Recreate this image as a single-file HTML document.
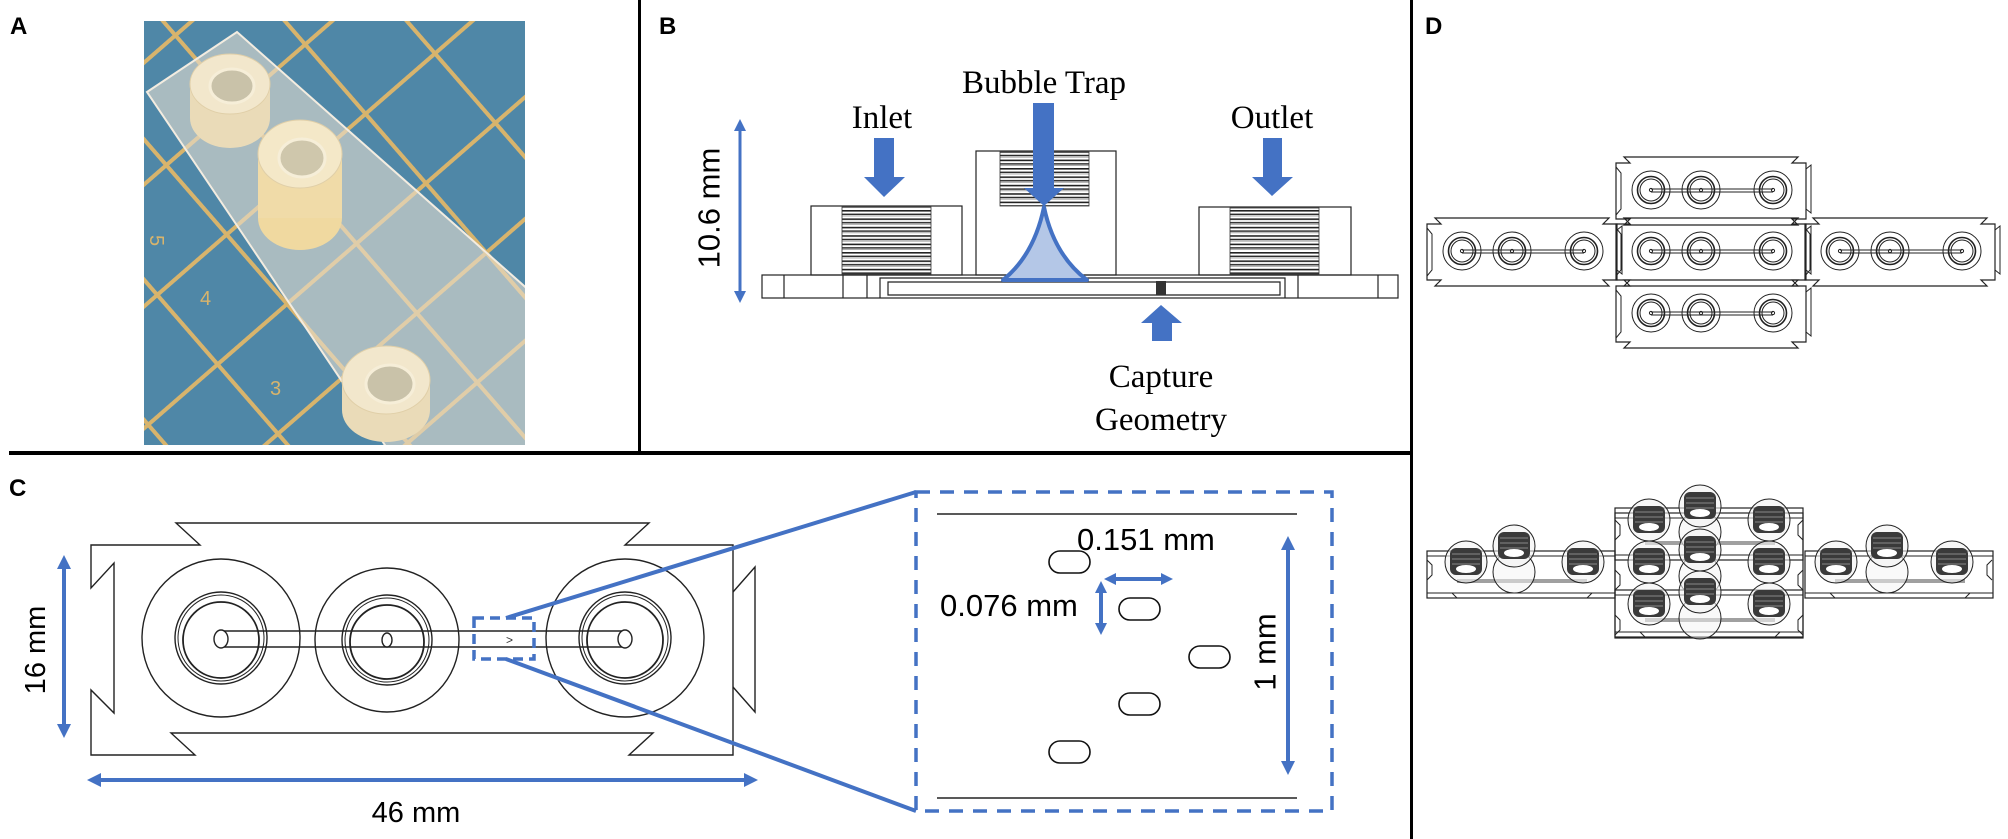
<!DOCTYPE html>
<html><head><meta charset="utf-8"><style>
html,body{margin:0;padding:0;background:#fff;}
svg{display:block;}
</style></head><body>
<svg width="2008" height="839" viewBox="0 0 2008 839" xmlns="http://www.w3.org/2000/svg">
<defs>
  <pattern id="grid" width="92" height="92" patternUnits="userSpaceOnUse" patternTransform="rotate(49 300 200)">
    <rect width="92" height="92" fill="#4f87a7"/>
    <rect x="0" y="0" width="92" height="4" fill="#d8b46c"/>
    <rect x="0" y="0" width="4" height="92" fill="#d8b46c"/>
  </pattern>
  <pattern id="thr" width="20" height="8.4" patternUnits="userSpaceOnUse">
    <rect width="20" height="8.4" fill="#fff"/>
    <rect y="0" width="20" height="1.6" fill="#222"/>
    <rect y="3.6" width="20" height="1.4" fill="#222"/>
    <rect y="5.6" width="20" height="0.8" fill="#999"/>
  </pattern>
  <g id="port">
    <circle r="19" fill="none" stroke="#222" stroke-width="1"/>
    <circle r="13.5" fill="none" stroke="#222" stroke-width="1.6"/>
    <circle r="11" fill="none" stroke="#222" stroke-width="1"/>
    <circle r="1.6" fill="none" stroke="#222" stroke-width="1"/>
  </g>
  <g id="strip">
    <path d="M0,6 H14 L8,0 H182 L176,6 H190 V62 H176 L182,68 H8 L14,62 H0 Z" fill="none" stroke="#222" stroke-width="1.2"/>
    <path d="M0,10 L5,16 V52 L0,58 M190,12 L195,8 V56 L190,52" fill="none" stroke="#222" stroke-width="1"/>
    <line x1="35" y1="32" x2="157" y2="32" stroke="#222" stroke-width="1"/>
    <line x1="35" y1="35" x2="157" y2="35" stroke="#222" stroke-width="1"/>
    <use href="#port" x="35" y="33"/>
    <use href="#port" x="85" y="33"/>
    <use href="#port" x="157" y="33"/>
  </g>
  <g id="fit">
    <circle r="21" fill="#f2f2f2" fill-opacity="0.6" stroke="#222" stroke-width="1"/>
    <rect x="-16" y="-14" width="32" height="27" rx="6" fill="#3a3a3a"/>
    <line x1="-14" y1="-8" x2="14" y2="-8" stroke="#888" stroke-width="1"/>
    <line x1="-14" y1="-3" x2="14" y2="-3" stroke="#888" stroke-width="1"/>
    <line x1="-14" y1="2" x2="14" y2="2" stroke="#888" stroke-width="1"/>
    <ellipse cx="0" cy="7" rx="10" ry="4" fill="#fff"/>
  </g>
  <g id="fitR">
    <circle cy="26" r="21" fill="#f4f4f4" fill-opacity="0.5" stroke="#222" stroke-width="1"/>
    <use href="#fit"/>
  </g>
  <g id="bstrip">
    <rect x="0" y="0" width="188" height="47" fill="none" stroke="#222" stroke-width="1.2"/>
    <line x1="0" y1="5" x2="188" y2="5" stroke="#222" stroke-width="1"/>
    <line x1="0" y1="42" x2="188" y2="42" stroke="#222" stroke-width="1"/>
    <line x1="30" y1="30" x2="160" y2="30" stroke="#444" stroke-width="4" opacity="0.5"/>
    <path d="M25,42 L30,47 H160 L165,42" fill="none" stroke="#222" stroke-width="1"/>
  </g>
</defs>

<!-- dividers -->
<rect x="638" y="0" width="3" height="453" fill="#000"/>
<rect x="9" y="451" width="1403" height="4" fill="#000"/>
<rect x="1410" y="0" width="3" height="839" fill="#000"/>

<!-- labels -->
<g font-family="Liberation Sans, sans-serif" font-weight="bold" font-size="24" fill="#000">
  <text x="10" y="34">A</text>
  <text x="659" y="34">B</text>
  <text x="9" y="496">C</text>
  <text x="1425" y="34">D</text>
</g>

<!-- Panel A photo -->
<g>
  <clipPath id="pc"><rect x="144" y="21" width="381" height="424"/></clipPath>
  <g clip-path="url(#pc)">
    <rect x="144" y="21" width="381" height="424" fill="url(#grid)"/>
    <path d="M147,92 L237,32 L540,300 L540,460 L395,460 Z" fill="#e6ddd0" fill-opacity="0.6" stroke="#f3ece0" stroke-width="2"/>
    <!-- fitting 1 -->
    <ellipse cx="230" cy="118" rx="40" ry="30" fill="#eadbb8"/>
    <rect x="190" y="84" width="80" height="34" fill="#eadbb8"/>
    <ellipse cx="230" cy="84" rx="40" ry="30" fill="#f2e7cc" stroke="#e0cfa8"/>
    <ellipse cx="232" cy="86" rx="22" ry="17" fill="#c9c2a9" stroke="#f6eed8" stroke-width="3"/>
    <!-- fitting 2 -->
    <ellipse cx="300" cy="218" rx="42" ry="32" fill="#f0d9a0"/>
    <rect x="258" y="154" width="84" height="64" fill="#f0dba8"/>
    <ellipse cx="300" cy="154" rx="42" ry="34" fill="#f4e8c8" stroke="#e0cfa8"/>
    <ellipse cx="302" cy="158" rx="23" ry="19" fill="#cfc7ac" stroke="#f6eed8" stroke-width="3"/>
    <!-- fitting 3 -->
    <ellipse cx="386" cy="410" rx="44" ry="32" fill="#eadbb8"/>
    <rect x="342" y="380" width="88" height="30" fill="#eadbb8"/>
    <ellipse cx="386" cy="380" rx="44" ry="34" fill="#f2e7cc" stroke="#e0cfa8"/>
    <ellipse cx="390" cy="384" rx="24" ry="19" fill="#c9c2a9" stroke="#f6eed8" stroke-width="3"/>
    <g font-family="Liberation Sans, sans-serif" font-size="20" fill="#d8b46c">
      <text x="150" y="235" transform="rotate(90 150 235)">5</text>
      <text x="200" y="305">4</text>
      <text x="270" y="395">3</text>
    </g>
  </g>
</g>

<!-- Panel B -->
<g fill="none" stroke="#222" stroke-width="1.2">
  <rect x="811" y="206" width="151" height="69"/>
  <rect x="976" y="151" width="140" height="124"/>
  <rect x="1199" y="207" width="152" height="68"/>
  <rect x="762" y="275" width="636" height="23"/>
  <line x1="784" y1="275" x2="784" y2="298"/>
  <line x1="843" y1="275" x2="843" y2="298"/>
  <line x1="867" y1="275" x2="867" y2="298"/>
  <path d="M880,298 V278 H1285 V298"/>
  <path d="M888,295 V282 H1280 V295 Z"/>
  <line x1="1298" y1="275" x2="1298" y2="298"/>
  <line x1="1378" y1="275" x2="1378" y2="298"/>
</g>
<rect x="842" y="207" width="89" height="67" fill="url(#thr)" stroke="#333" stroke-width="0.8"/>
<rect x="1000" y="152" width="89" height="54" fill="url(#thr)" stroke="#333" stroke-width="0.8"/>
<rect x="1230" y="208" width="89" height="66" fill="url(#thr)" stroke="#333" stroke-width="0.8"/>
<rect x="1156" y="281" width="10" height="14" fill="#333"/>
<path d="M1044,207 Q1054,255 1087,280 L1003,280 Q1034,255 1044,207 Z" fill="#b4c7e7" stroke="#4472c4" stroke-width="4" stroke-linejoin="round"/>
<g fill="#4472c4">
  <path d="M874,138 H894 V177 H905 L884,197 L864,177 H874 Z"/>
  <path d="M1033,103 H1054 V188 H1064 L1044,206 L1024,188 H1033 Z"/>
  <path d="M1263,138 H1282 V177 H1293 L1272,196 L1252,177 H1263 Z"/>
  <path d="M1161,305 L1182,323 H1172 V341 H1152 V323 H1141 Z"/>
</g>
<g stroke="#4472c4" stroke-width="3" fill="#4472c4">
  <line x1="740" y1="128" x2="740" y2="294"/>
  <path d="M740,119 L746,131 H734 Z" stroke="none"/>
  <path d="M740,303 L746,291 H734 Z" stroke="none"/>
</g>
<text x="709" y="208" transform="rotate(-90 709 208)" text-anchor="middle" dominant-baseline="central" font-family="Liberation Sans, sans-serif" font-size="31" fill="#000">10.6 mm</text>
<g font-family="Liberation Serif, serif" font-size="33" fill="#000" text-anchor="middle">
  <text x="1044" y="93">Bubble Trap</text>
  <text x="882" y="128">Inlet</text>
  <text x="1272" y="128">Outlet</text>
  <text x="1161" y="387">Capture</text>
  <text x="1161" y="430">Geometry</text>
</g>

<!-- Panel C left device -->
<g fill="none" stroke="#222" stroke-width="1.4">
  <path d="M91,545 H200 L176,523 H649 L625,545 H733 V755 H629 L653,733 H171 L195,755 H91 V690 L114,713 V563 L91,588 Z"/>
  <path d="M733,592 L755,567 V712 L733,687"/>
  <circle cx="221" cy="638" r="79"/>
  <circle cx="387" cy="640" r="72"/>
  <circle cx="625" cy="638" r="79"/>
  <circle cx="221" cy="638" r="46"/><circle cx="221" cy="638" r="43" stroke-width="1"/><circle cx="221" cy="640" r="38" stroke-width="1.8"/>
  <circle cx="387" cy="640" r="45"/><circle cx="387" cy="640" r="42" stroke-width="1"/><circle cx="387" cy="642" r="37" stroke-width="1.8"/>
  <circle cx="625" cy="638" r="46"/><circle cx="625" cy="638" r="43" stroke-width="1"/><circle cx="625" cy="640" r="38" stroke-width="1.8"/>
  <line x1="221" y1="631" x2="625" y2="631"/>
  <line x1="221" y1="647" x2="625" y2="647"/>
</g>
<g fill="#fff" stroke="#222" stroke-width="1.4">
  <ellipse cx="221" cy="639" rx="7" ry="9"/>
  <ellipse cx="387" cy="640" rx="5" ry="7"/>
  <ellipse cx="625" cy="639" rx="7" ry="9"/>
</g>
<text x="506" y="644" font-family="Liberation Sans, sans-serif" font-size="12" fill="#333">&gt;</text>
<rect x="474" y="618" width="60" height="41" fill="none" stroke="#4472c4" stroke-width="3.5" stroke-dasharray="10 6"/>
<g stroke="#4472c4" stroke-width="4">
  <line x1="506" y1="618" x2="916" y2="492"/>
  <line x1="506" y1="659" x2="916" y2="811"/>
  <line x1="64" y1="565" x2="64" y2="728"/>
  <line x1="97" y1="780" x2="748" y2="780"/>
  <line x1="1109" y1="579" x2="1168" y2="579"/>
  <line x1="1101" y1="586" x2="1101" y2="630"/>
  <line x1="1288" y1="546" x2="1288" y2="765"/>
</g>
<g fill="#4472c4">
  <path d="M64,555 L71,569 H57 Z"/><path d="M64,738 L71,724 H57 Z"/>
  <path d="M87,780 L101,773 V787 Z"/><path d="M758,780 L744,773 V787 Z"/>
  <path d="M1104,579 L1116,573 V585 Z"/><path d="M1173,579 L1161,573 V585 Z"/>
  <path d="M1101,581 L1107,593 H1095 Z"/><path d="M1101,635 L1107,623 H1095 Z"/>
  <path d="M1288,536 L1295,550 H1281 Z"/><path d="M1288,775 L1295,761 H1281 Z"/>
</g>
<g font-family="Liberation Sans, sans-serif" font-size="29" fill="#000">
  <text x="36" y="650" transform="rotate(-90 36 650)" text-anchor="middle" dominant-baseline="central">16 mm</text>
  <text x="416" y="822" text-anchor="middle">46 mm</text>
</g>

<!-- Panel C inset -->
<rect x="916" y="492" width="416" height="319" fill="none" stroke="#4472c4" stroke-width="3.5" stroke-dasharray="14 10"/>
<line x1="937" y1="514" x2="1297" y2="514" stroke="#222" stroke-width="1.4"/>
<line x1="937" y1="798" x2="1297" y2="798" stroke="#222" stroke-width="1.4"/>
<g fill="none" stroke="#111" stroke-width="1.6">
  <rect x="1049" y="551" width="41" height="22" rx="11"/>
  <rect x="1119" y="598" width="41" height="22" rx="11"/>
  <rect x="1189" y="646" width="41" height="22" rx="11"/>
  <rect x="1119" y="693" width="41" height="22" rx="11"/>
  <rect x="1049" y="741" width="41" height="22" rx="11"/>
</g>
<g font-family="Liberation Sans, sans-serif" font-size="31" fill="#000">
  <text x="1077" y="550">0.151 mm</text>
  <text x="940" y="616">0.076 mm</text>
  <text x="1265" y="652" transform="rotate(-90 1265 652)" text-anchor="middle" dominant-baseline="central">1 mm</text>
</g>

<!-- Panel D top -->
<use href="#strip" x="1427" y="218"/>
<use href="#strip" x="1616" y="157"/>
<use href="#strip" x="1616" y="218"/>
<use href="#strip" x="1616" y="280"/>
<use href="#strip" x="1805" y="218"/>

<!-- Panel D bottom -->
<use href="#bstrip" x="1427" y="551"/>
<use href="#bstrip" x="1805" y="551"/>
<rect x="1615" y="508" width="188" height="130" fill="none" stroke="#222" stroke-width="1.2"/>
<use href="#bstrip" x="1615" y="513"/>
<use href="#bstrip" x="1615" y="590"/>
<path d="M1615,520 l5,5 v10 l-5,5 M1615,570 l5,5 v10 l-5,5 M1615,615 l5,5 v10 l-5,5 M1803,520 l-5,5 v10 l5,5 M1803,570 l-5,5 v10 l5,5 M1803,615 l-5,5 v10 l5,5 M1427,560 l5,5 v10 l-5,5 M1992,560 l-5,5 v10 l5,5" fill="none" stroke="#222" stroke-width="1"/>
<use href="#fit" x="1466" y="562"/>
<use href="#fitR" x="1514" y="546"/>
<use href="#fit" x="1583" y="562"/>
<use href="#fit" x="1649" y="520"/>
<use href="#fitR" x="1700" y="506"/>
<use href="#fit" x="1769" y="520"/>
<use href="#fit" x="1649" y="562"/>
<use href="#fitR" x="1700" y="550"/>
<use href="#fit" x="1769" y="562"/>
<use href="#fit" x="1649" y="604"/>
<use href="#fitR" x="1700" y="592"/>
<use href="#fit" x="1769" y="604"/>
<use href="#fit" x="1836" y="562"/>
<use href="#fitR" x="1887" y="546"/>
<use href="#fit" x="1952" y="562"/>
</svg>
</body></html>
